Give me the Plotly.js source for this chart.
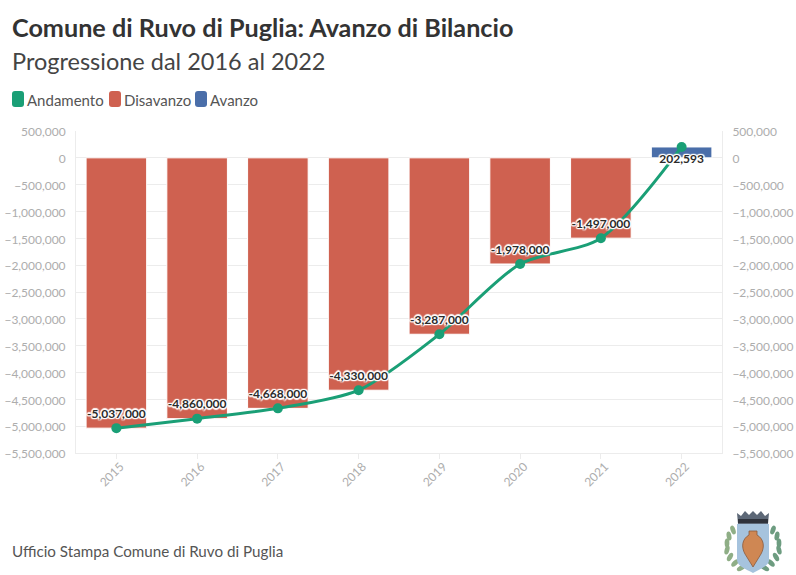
<!DOCTYPE html>
<html><head><meta charset="utf-8">
<script src="https://cdn.plot.ly/plotly-3.0.1.min.js"></script>
<style>html,body{margin:0;padding:0;background:#fff}#c{width:796px;height:575px}</style></head>
<body><div id="c"></div>
<script>
const years = ['2015','2016','2017','2018','2019','2020','2021','2022'];
const disavanzo = [-5037000,-4860000,-4668000,-4330000,-3287000,-1978000,-1497000,null];
const avanzo = [null,null,null,null,null,null,null,202593];
const andamento = [-5037000,-4860000,-4668000,-4330000,-3287000,-1978000,-1497000,202593];
const labelPositions = ['top center','top center','top center','top center','top center','top center','top center','bottom center'];
const yTicks = [500000,0,-500000,-1000000,-1500000,-2000000,-2500000,-3000000,-3500000,-4000000,-4500000,-5000000,-5500000];
const legendNames = ['Andamento','Disavanzo','Avanzo'];
const colors = {line:'#1a9f76', neg:'#cf6150', pos:'#4a6ea9'};
const uiFont = 'Lato, "Noto Sans", sans-serif';
const halo = '-1px -1px 1px #fff, 1px -1px 1px #fff, -1px 1px 1px #fff, 1px 1px 1px #fff, 0 -1.5px 1px #fff, 0 1.5px 1px #fff, -1.5px 0 1px #fff, 1.5px 0 1px #fff';

function leaves(side){
  const pts=[[13,24,-20],[9,30,-10],[7,37,0],[7,44,15],[10,51,30],[15,57,45],[21,62,60]];
  return pts.map(p=>{const x=side<0?p[0]:66-p[0];const a=side<0?p[2]:-p[2];
    return `<ellipse cx="${x}" cy="${p[1]}" rx="2.4" ry="4.6" fill="${side<0?'#8fae86':'#6d9c80'}" transform="rotate(${a} ${x} ${p[1]})"/>`}).join('');
}
const crest = `<svg xmlns="http://www.w3.org/2000/svg" width="66" height="70" viewBox="0 0 66 70">
${leaves(-1)}${leaves(1)}
<path d="M17 18H49V54C49 60 40 63 33 67C26 63 17 60 17 54Z" fill="#a6c3dd"/>
<path d="M29 25H37V29C44 33 45 41 41 48L33 61L25 48C21 41 22 33 29 29Z" fill="#cf8753" stroke="#8a5a3c" stroke-width="0.8"/>
<path d="M17 7L21 10L25 5L29 9L33 5L37 9L41 5L45 10L49 7L48 18H18Z" fill="#5d6877"/>
<rect x="18" y="13" width="30" height="4" fill="#2f333c"/>
</svg>`;

const common = {tickvals:yTicks, tickformat:',', range:[-5500000,500000], autorange:false,
  tickfont:{family:uiFont,size:12,color:'#adadad'}, gridcolor:'#ececec', gridwidth:1,
  zeroline:false, showline:true, linecolor:'#ececec', ticks:'', ticklen:0, ticklabelstandoff:7, ticklabelshift:1};

const data = [
 {type:'bar',name:legendNames[1],x:years,y:disavanzo,marker:{color:colors.neg,line:{color:'#fff',width:1}},showlegend:false,hoverinfo:'x+y'},
 {type:'bar',name:legendNames[2],x:years,y:avanzo,marker:{color:colors.pos,line:{color:'#fff',width:1}},showlegend:false,hoverinfo:'x+y'},
 {type:'scatter',mode:'lines+markers+text',name:legendNames[0],x:years,y:andamento,
  line:{color:colors.line,width:3,shape:'spline',smoothing:0.8},
  marker:{color:colors.line,size:10},
  text:andamento.map(v=>v.toLocaleString('en-US')),
  textposition:labelPositions,
  textfont:{family:uiFont,size:12,color:'#2b2b2b',weight:700,shadow:halo},
  cliponaxis:false,showlegend:false},
 {type:'scatter',x:years,y:andamento,yaxis:'y2',mode:'none',showlegend:false,hoverinfo:'skip'}
];

const W=796,H=575,M={l:76,r:74,t:131,b:122};
const PW=W-M.l-M.r, PH=H-M.t-M.b;
const px=x=>(x-M.l)/PW, py=y=>1-(y-M.t)/PH;
function ann(text,x,y,size,color){
  return {text,xref:'paper',yref:'paper',x:px(x),y:py(y),xanchor:'left',yanchor:'middle',
    showarrow:false,font:{family:uiFont,size,color},borderpad:0};
}
function swatch(x,color){
  const x0=x,x1=x+12,y0=91,y1=107,k=3;
  return {type:'path',xref:'paper',yref:'paper',fillcolor:color,line:{width:0},layer:'above',
   path:`M${px(x0+k)},${py(y0)}L${px(x1-k)},${py(y0)}Q${px(x1)},${py(y0)} ${px(x1)},${py(y0+k)}L${px(x1)},${py(y1-k)}Q${px(x1)},${py(y1)} ${px(x1-k)},${py(y1)}L${px(x0+k)},${py(y1)}Q${px(x0)},${py(y1)} ${px(x0)},${py(y1-k)}L${px(x0)},${py(y0+k)}Q${px(x0)},${py(y0)} ${px(x0+k)},${py(y0)}Z`};
}

const layout = {
 width:W,height:H,margin:M,paper_bgcolor:'#fff',plot_bgcolor:'#fff',
 title:{text:'<b>Comune di Ruvo di Puglia: Avanzo di Bilancio</b><br><span style="font-size:23.5px;color:#444">Progressione dal 2016 al 2022</span>',
   font:{family:uiFont,size:25.2,color:'#333'},x:12/W,xanchor:'left',y:1-37/H,yanchor:'middle'},
 barmode:'relative',bargap:0.25,showlegend:false,
 xaxis:{type:'category',tickangle:-45,tickfont:{family:uiFont,size:12,color:'#adadad'},
   showgrid:false,showline:true,linecolor:'#ececec',ticks:'outside',ticklen:5,tickcolor:'#ececec',zeroline:false,range:[-0.5,7.5],
   ticklabelstandoff:-4,ticklabelshift:4},
 yaxis:Object.assign({side:'left'},common),
 yaxis2:Object.assign({side:'right',overlaying:'y'},common,{showgrid:false}),
 shapes:[swatch(12,colors.line),swatch(109,colors.neg),swatch(195,colors.pos)],
 annotations:[
  ann(legendNames[0],26,100,15,'#555'),
  ann(legendNames[1],123,100,15,'#555'),
  ann(legendNames[2],209,100,15,'#555'),
  ann('Ufficio Stampa Comune di Ruvo di Puglia',11,551,15.2,'#555')
 ],
 images:[{source:'data:image/svg+xml;utf8,'+encodeURIComponent(crest),xref:'paper',yref:'paper',
   x:px(720),y:py(506),sizex:66/PW,sizey:70/PH,sizing:'stretch',xanchor:'left',yanchor:'top',layer:'above'}]
};
Plotly.newPlot('c',data,layout,{displayModeBar:false,responsive:false});
</script></body></html>
